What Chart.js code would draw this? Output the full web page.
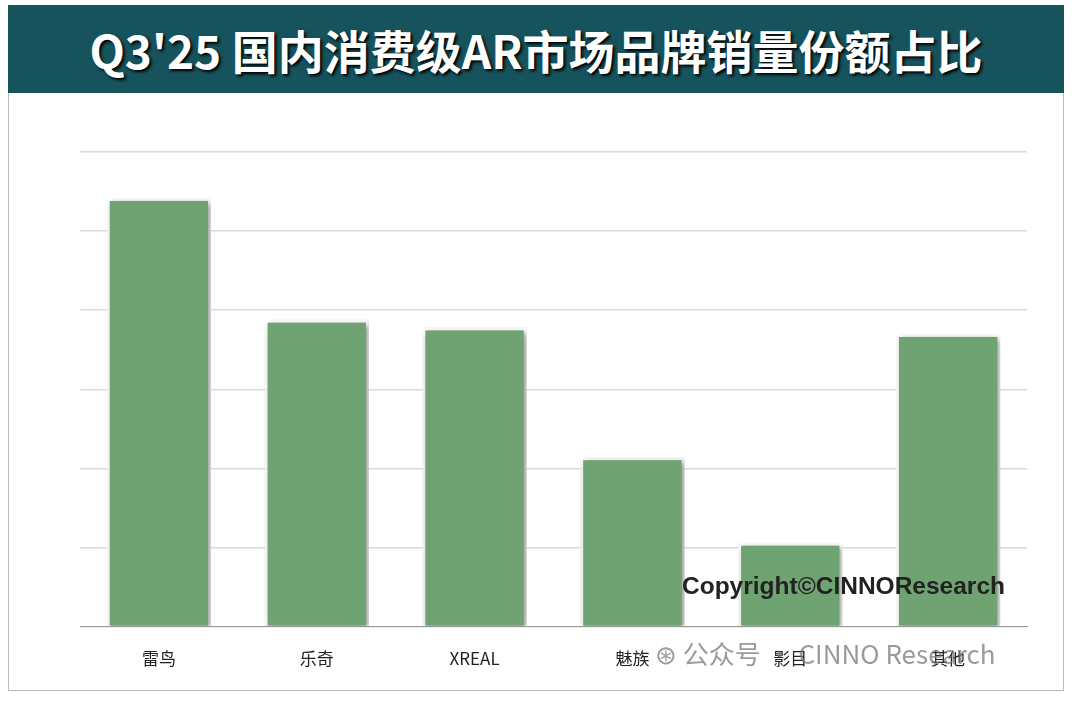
<!DOCTYPE html>
<html><head><meta charset="utf-8">
<script src="https://cdn.jsdelivr.net/npm/chart.js@4/dist/chart.umd.min.js"></script>
<style>
body{margin:0;width:1080px;height:703px;background:#fff;position:relative;overflow:hidden;font-family:"Noto Sans CJK SC",sans-serif}
#frame{position:absolute;left:8px;top:5px;width:1056px;height:686px;border:1px solid #bbb;box-sizing:border-box}
#title{position:absolute;left:8px;top:5px;width:1056px;height:88px;background:#17535d;color:#fff;font-weight:bold;font-size:46px;line-height:88px;text-align:center;text-shadow:2px 2px 3px #000}
#c{position:absolute;left:0;top:0}
#cp{position:absolute;left:682px;top:572px;font:bold 24.5px "Liberation Sans",sans-serif;color:#222}
#wm{position:absolute;left:655px;top:634px;font-size:26px;color:rgba(120,120,120,0.75)}
</style></head><body>
<div id="frame"></div>
<div id="title">Q3'25 国内消费级AR市场品牌销量份额占比</div>
<canvas id="c" width="1080" height="703"></canvas>
<div id="cp">Copyright©CINNOResearch</div>
<div id="wm">⊛ 公众号 · CINNO Research</div>
<script>
const categories=["雷鸟","乐奇","XREAL","魅族","影目","其他"];
const shares=[27.1,19.4,18.9,10.7,5.3,18.5];
const yTicks=[0,5,10,15,20,25,30];
const shadow={id:'sh',beforeDatasetsDraw(c){c.ctx.save();c.ctx.shadowColor='rgba(0,0,0,0.45)';c.ctx.shadowBlur=6;c.ctx.shadowOffsetX=2;c.ctx.shadowOffsetY=2;},afterDatasetsDraw(c){c.ctx.restore();}};
new Chart(document.getElementById('c'),{type:'bar',
data:{labels:categories,datasets:[{data:shares,backgroundColor:'#6fa472',borderColor:'#fff',borderWidth:3,barPercentage:0.66,categoryPercentage:1}]},
options:{responsive:false,animation:false,layout:{padding:{left:80,right:53,top:152,bottom:20}},
plugins:{legend:{display:false},tooltip:{enabled:false}},
scales:{x:{grid:{display:false},border:{color:'#999'},ticks:{color:'#222',font:{size:17,family:'"Noto Sans CJK SC"'},padding:14}},
y:{min:0,max:30,afterBuildTicks(a){a.ticks=yTicks.map(v=>({value:v}));},ticks:{display:false},border:{display:false},grid:{color:'#d9d9d9',lineWidth:1.5,drawTicks:false}}}},
plugins:[shadow]});
</script></body></html>
